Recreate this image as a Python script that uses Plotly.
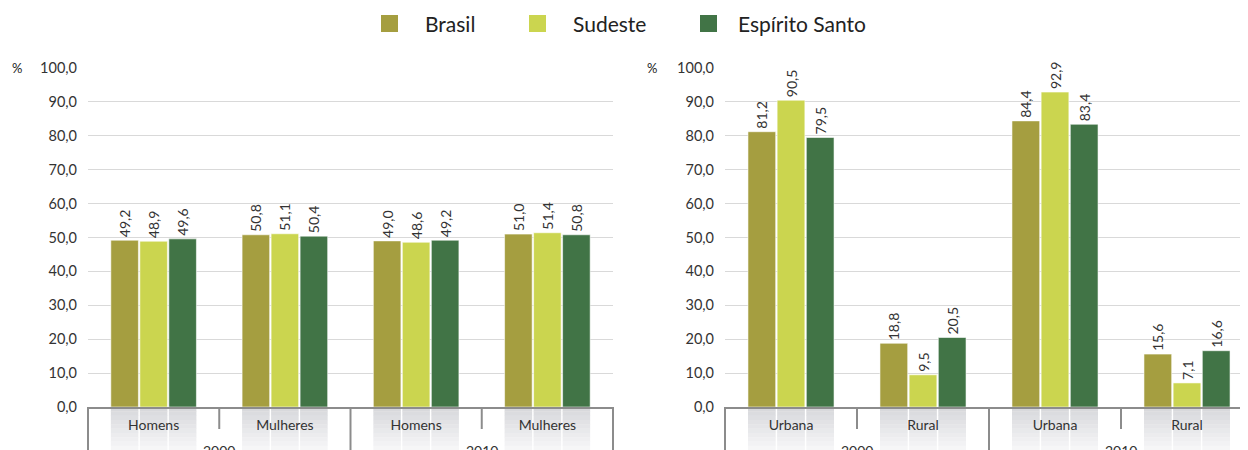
import plotly.graph_objects as go

# ---------------- data ----------------
series = ["Brasil", "Sudeste", "Espírito Santo"]
colors = ["#a59e40", "#cbd54f", "#417446"]

years = ["2000", "2000", "2010", "2010"]
sexo_cats = ["Homens", "Mulheres", "Homens", "Mulheres"]
sexo_brasil = [49.2, 50.8, 49.0, 51.0]
sexo_sudeste = [48.9, 51.1, 48.6, 51.4]
sexo_es = [49.6, 50.4, 49.2, 50.8]

situ_cats = ["Urbana", "Rural", "Urbana", "Rural"]
situ_brasil = [81.2, 18.8, 84.4, 15.6]
situ_sudeste = [90.5, 9.5, 92.9, 7.1]
situ_es = [79.5, 20.5, 83.4, 16.6]

y_ticks = [0, 10, 20, 30, 40, 50, 60, 70, 80, 90, 100]

# ---------------- layout constants ----------------
OFF = 8                      # page body margin
W, H = 1248 - OFF, 450 - OFF  # figure size so it fills the window
TOP, BOTTOM = 68 - OFF, 407 - OFF
PH = BOTTOM - TOP
FONT = "Lato"
TXT = "#333333"
AXC = "#8c8c8c"
BARGAP = 0.337
BARGROUPGAP = 0.05


def px_x(p):
    return (p - OFF) / W


def px_y(p):
    return (BOTTOM - (p - OFF)) / PH


idx = list(range(len(years)))  # category slots along each x axis

left_dom = [px_x(88), px_x(613)]
right_dom = [px_x(725), 1.0]
left_range = [-0.5, len(idx) - 0.5]
right_range = [-0.5, len(idx) - 0.5 - 5 / 132]

fig = go.Figure()

for name, color, vals in zip(series, colors, [sexo_brasil, sexo_sudeste, sexo_es]):
    fig.add_bar(
        x=idx, y=vals, name=name, marker_color=color,
        marker_line=dict(width=0.8, color="rgba(255,255,255,0.7)"),
        xaxis="x", yaxis="y", texttemplate="%{y:.1f}", textposition="outside",
        textangle=-90, textfont=dict(size=14, color=TXT, family=FONT),
        constraintext="none", cliponaxis=False, showlegend=False,
    )
for name, color, vals in zip(series, colors, [situ_brasil, situ_sudeste, situ_es]):
    fig.add_bar(
        x=idx, y=vals, name=name, marker_color=color,
        marker_line=dict(width=0.8, color="rgba(255,255,255,0.7)"),
        xaxis="x2", yaxis="y2", texttemplate="%{y:.1f}", textposition="outside",
        textangle=-90, textfont=dict(size=14, color=TXT, family=FONT),
        constraintext="none", cliponaxis=False, showlegend=False,
    )

xcommon = dict(
    type="linear", showline=True, linecolor=AXC, linewidth=2,
    showgrid=False, ticks="", tickvals=idx,
    tickfont=dict(size=14, color=TXT, family=FONT),
    automargin=False, ticklabelstandoff=4, zeroline=False,
)
ycommon = dict(
    range=[0, 100], tickvals=y_ticks, tickformat=".1f", showgrid=True,
    gridcolor="#d9d9d9", gridwidth=1, showline=False, zeroline=False,
    tickfont=dict(size=14.5, color=TXT, family=FONT), automargin=False,
    ticklabelstandoff=10,
)

shapes = []
annotations = []

# gray reflection strips under each bar, dividers, short inner ticks, year labels
NSTR = 10
depth = (H - BOTTOM) / PH
slot = (1 - BARGAP) / 3
barw = slot * (1 - BARGROUPGAP)
year_groups = []
for y_ in years:
    if y_ not in year_groups:
        year_groups.append(y_)

for xr, yr, xa, rng in [("x domain", "y domain", "x", left_range),
                        ("x2 domain", "y2 domain", "x2", right_range)]:
    span = rng[1] - rng[0]
    for i in idx:
        for j in range(3):
            c = i + (j - 1) * slot
            x0 = (c - barw / 2 - rng[0]) / span
            x1 = (c + barw / 2 - rng[0]) / span
            for k in range(NSTR):
                t = k / (NSTR - 1)
                g0 = (216, 217, 220)
                g1 = (246, 246, 247)
                col = "rgb(%d,%d,%d)" % tuple(int(a + (b - a) * t) for a, b in zip(g0, g1))
                shapes.append(dict(
                    type="rect", xref=xr, yref=yr, x0=x0, x1=x1,
                    y0=-depth * k / NSTR, y1=-depth * (k + 1) / NSTR - 0.001,
                    fillcolor=col, line=dict(width=0), layer="below",
                ))
    # boundaries between slots
    for b in range(len(idx) + 1):
        pos = b - 0.5
        xb = (pos - rng[0]) / span
        if xb < -1e-9 or xb > 1 + 1e-9:
            continue
        left_year = years[b - 1] if b > 0 else None
        right_year = years[b] if b < len(years) else None
        full = left_year != right_year
        shapes.append(dict(
            type="line", xref=xr, yref=yr, x0=xb, x1=xb, y0=0,
            y1=-depth if full else -22 / PH,
            line=dict(color=AXC, width=2), layer="above",
        ))
    # year labels centred under their group
    for yg in year_groups:
        members = [i for i in idx if years[i] == yg]
        annotations.append(dict(
            text=yg, xref=xa, yref="paper", x=sum(members) / len(members),
            y=(BOTTOM - 432) / PH, xanchor="center", yanchor="top",
            showarrow=False, font=dict(size=14, color=TXT, family=FONT),
        ))

# legend drawn manually
leg_sq_x = [381, 529, 700]
leg_tx_x = [423, 571, 736]
for name, color, sx, tx in zip(series, colors, leg_sq_x, leg_tx_x):
    shapes.append(dict(
        type="rect", xref="paper", yref="paper",
        x0=px_x(sx), x1=px_x(sx + 17),
        y0=px_y(15), y1=px_y(32),
        fillcolor=color, line=dict(width=0),
    ))
    annotations.append(dict(
        text=name, xref="paper", yref="paper", x=px_x(tx), y=px_y(23),
        xanchor="left", yanchor="middle", showarrow=False,
        font=dict(size=21, color="#222222", family=FONT),
    ))

for px in [17, 652]:
    annotations.append(dict(
        text="%", xref="paper", yref="paper", x=px_x(px), y=1.0,
        xanchor="center", yanchor="middle", showarrow=False,
        font=dict(size=13, color="#222222", family=FONT),
    ))

fig.update_layout(
    template="none",
    width=W, height=H,
    margin=dict(l=0, r=0, t=TOP, b=H - BOTTOM, pad=0),
    paper_bgcolor="white", plot_bgcolor="white",
    font=dict(family=FONT, color=TXT),
    separators=",.",
    barmode="group", bargap=BARGAP, bargroupgap=BARGROUPGAP,
    showlegend=False,
    xaxis=dict(domain=left_dom, anchor="y", range=left_range,
               ticktext=sexo_cats, **xcommon),
    xaxis2=dict(domain=right_dom, anchor="y2", range=right_range,
                ticktext=situ_cats, **xcommon),
    yaxis=dict(anchor="x", **ycommon),
    yaxis2=dict(anchor="x2", **ycommon),
    shapes=shapes,
    annotations=annotations,
)

fig.write_html("out.html")
